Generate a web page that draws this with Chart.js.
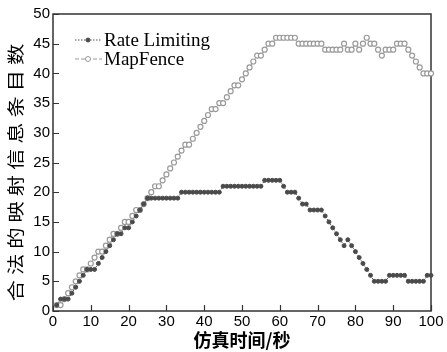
<!DOCTYPE html>
<html>
<head>
<meta charset="utf-8">
<script src="https://cdn.jsdelivr.net/npm/chart.js@4"></script>
<style>
  html, body { margin: 0; padding: 0; background: #fff; }
  #wrap { width: 447px; height: 352px; }
</style>
</head>
<body>
<div id="wrap"><canvas id="msgChart" width="447" height="352"></canvas></div>
<script>
// simulation time (s)
const seconds = [
  1, 2, 3, 4, 5, 6, 7, 8, 9, 10,
  11, 12, 13, 14, 15, 16, 17, 18, 19, 20,
  21, 22, 23, 24, 25, 26, 27, 28, 29, 30,
  31, 32, 33, 34, 35, 36, 37, 38, 39, 40,
  41, 42, 43, 44, 45, 46, 47, 48, 49, 50,
  51, 52, 53, 54, 55, 56, 57, 58, 59, 60,
  61, 62, 63, 64, 65, 66, 67, 68, 69, 70,
  71, 72, 73, 74, 75, 76, 77, 78, 79, 80,
  81, 82, 83, 84, 85, 86, 87, 88, 89, 90,
  91, 92, 93, 94, 95, 96, 97, 98, 99, 100
];

// legal mapping messages
const rateLimiting = [
  1, 2, 2, 2, 3, 4, 5, 6, 7, 7,
  7, 8, 9, 10, 11, 12, 13, 13, 14, 14,
  15, 16, 17, 18, 19, 19, 19, 19, 19, 19,
  19, 19, 19, 20, 20, 20, 20, 20, 20, 20,
  20, 20, 20, 20, 21, 21, 21, 21, 21, 21,
  21, 21, 21, 21, 21, 22, 22, 22, 22, 22,
  21, 20, 20, 20, 19, 18, 18, 17, 17, 17,
  17, 16, 15, 14, 13, 12, 11, 12, 11, 10,
  9, 8, 7, 6, 5, 5, 5, 5, 6, 6,
  6, 6, 6, 5, 5, 5, 5, 5, 6, 6
];

const mapFence = [
  1, 1, 2, 3, 4, 5, 6, 7, 7, 8,
  9, 10, 10, 11, 12, 13, 13, 14, 15, 15,
  16, 17, 17, 18, 19, 20, 21, 21, 22, 23,
  24, 25, 26, 27, 28, 28, 29, 30, 31, 32,
  33, 34, 34, 35, 35, 36, 37, 38, 38, 39,
  40, 41, 42, 43, 43, 44, 45, 45, 46, 46,
  46, 46, 46, 46, 45, 45, 45, 45, 45, 45,
  45, 44, 44, 44, 44, 44, 45, 44, 44, 45,
  44, 45, 46, 45, 45, 44, 43, 44, 44, 44,
  45, 45, 45, 44, 43, 42, 41, 40, 40, 40
];

const seriesNames = ['Rate Limiting', 'MapFence'];
const xTitle = '仿真时间/秒';
const yTitle = '合法的映射信息条目数';

const toPoints = (ys) => ys.map((y, i) => ({ x: seconds[i], y: y }));

// box around the plot + inward ticks
const framePlugin = {
  id: 'frame',
  beforeDatasetsDraw(chart) {
    const { ctx, chartArea: a, scales } = chart;
    ctx.save();
    ctx.strokeStyle = '#333';
    ctx.lineWidth = 1.5;
    ctx.strokeRect(a.left, a.top, a.right - a.left, a.bottom - a.top);
    ctx.lineWidth = 1.2;
    ctx.beginPath();
    scales.x.ticks.forEach(t => {
      const px = Math.round(scales.x.getPixelForValue(t.value)) + 0.5;
      ctx.moveTo(px, a.bottom);
      ctx.lineTo(px, a.bottom - 6);
    });
    scales.y.ticks.forEach(t => {
      const py = Math.round(scales.y.getPixelForValue(t.value)) + 0.5;
      ctx.moveTo(a.left, py);
      ctx.lineTo(a.left + 6, py);
    });
    ctx.stroke();
    ctx.restore();
  }
};

// y title in the original is tall and stretched along the axis
const yTitlePlugin = {
  id: 'yTitle',
  afterDraw(chart) {
    const { ctx, chartArea: a } = chart;
    ctx.save();
    ctx.translate(16, (a.top + a.bottom) / 2 + 10);
    ctx.rotate(-Math.PI / 2);
    ctx.scale(1.25, 1);
    ctx.font = '17px "Noto Sans CJK SC", sans-serif';
    ctx.letterSpacing = '4px';
    ctx.fillStyle = '#000';
    ctx.textAlign = 'center';
    ctx.textBaseline = 'middle';
    ctx.fillText(yTitle, 2, 0);
    ctx.restore();
  }
};

// legend in the upper-left corner of the plot
const legendPlugin = {
  id: 'innerLegend',
  afterDraw(chart) {
    const { ctx, chartArea: a } = chart;
    ctx.save();
    chart.data.datasets.forEach((ds, i) => {
      const y = a.top + 26 + i * 19;
      const x0 = a.left + 22;
      ctx.strokeStyle = ds.borderColor;
      ctx.lineWidth = 1;
      ctx.setLineDash(ds.borderDash);
      ctx.beginPath();
      ctx.moveTo(x0, y);
      ctx.lineTo(x0 + 27, y);
      ctx.stroke();
      ctx.setLineDash([]);
      ctx.beginPath();
      ctx.arc(x0 + 13, y, ds.pointRadius, 0, Math.PI * 2);
      ctx.fillStyle = ds.pointBackgroundColor;
      ctx.fill();
      ctx.strokeStyle = ds.pointBorderColor;
      ctx.stroke();
      ctx.fillStyle = '#000';
      ctx.font = '19px "Liberation Serif", "Times New Roman", serif';
      ctx.textBaseline = 'middle';
      ctx.fillText(ds.label, x0 + 29, y + 1);
    });
    ctx.restore();
  }
};

const ctx = document.getElementById('msgChart').getContext('2d');
const msgChart = new Chart(ctx, {
  type: 'line',
  data: {
    datasets: [
      {
        label: seriesNames[0],
        data: toPoints(rateLimiting),
        borderColor: '#555',
        borderWidth: 1,
        borderDash: [1.5, 1.5],
        pointRadius: 2,
        pointBackgroundColor: '#4a4a4a',
        pointBorderColor: '#4a4a4a',
        pointBorderWidth: 1,
        tension: 0,
        clip: false
      },
      {
        label: seriesNames[1],
        data: toPoints(mapFence),
        borderColor: '#999',
        borderWidth: 1,
        borderDash: [4, 2],
        pointRadius: 2.5,
        pointBackgroundColor: '#fff',
        pointBorderColor: '#999',
        pointBorderWidth: 1.2,
        tension: 0,
        clip: false
      }
    ]
  },
  options: {
    responsive: false,
    animation: false,
    layout: { padding: { top: 14, right: 16, left: 0, bottom: 0 } },
    plugins: {
      legend: { display: false },
      tooltip: { enabled: false }
    },
    scales: {
      x: {
        type: 'linear',
        min: 0,
        max: 100,
        grid: { display: false, drawTicks: false },
        border: { display: false },
        ticks: {
          stepSize: 10,
          padding: 2,
          maxRotation: 0,
          color: '#000',
          font: { family: '"Liberation Sans", Arial, sans-serif', size: 15 }
        },
        title: {
          display: true,
          text: xTitle,
          color: '#000',
          padding: { top: 0, bottom: 1 },
          font: { family: '"Noto Sans CJK SC", sans-serif', size: 18, weight: 'bold' }
        },
        afterFit(scale) { scale.height = 41; }
      },
      y: {
        min: 0,
        max: 50,
        grid: { display: false, drawTicks: false },
        border: { display: false },
        ticks: {
          stepSize: 5,
          padding: 3,
          color: '#000',
          font: { family: '"Liberation Sans", Arial, sans-serif', size: 15 }
        },
        title: { display: false },
        afterFit(scale) { scale.width = 53; }
      }
    }
  },
  plugins: [framePlugin, legendPlugin, yTitlePlugin]
});
</script>
</body>
</html>
